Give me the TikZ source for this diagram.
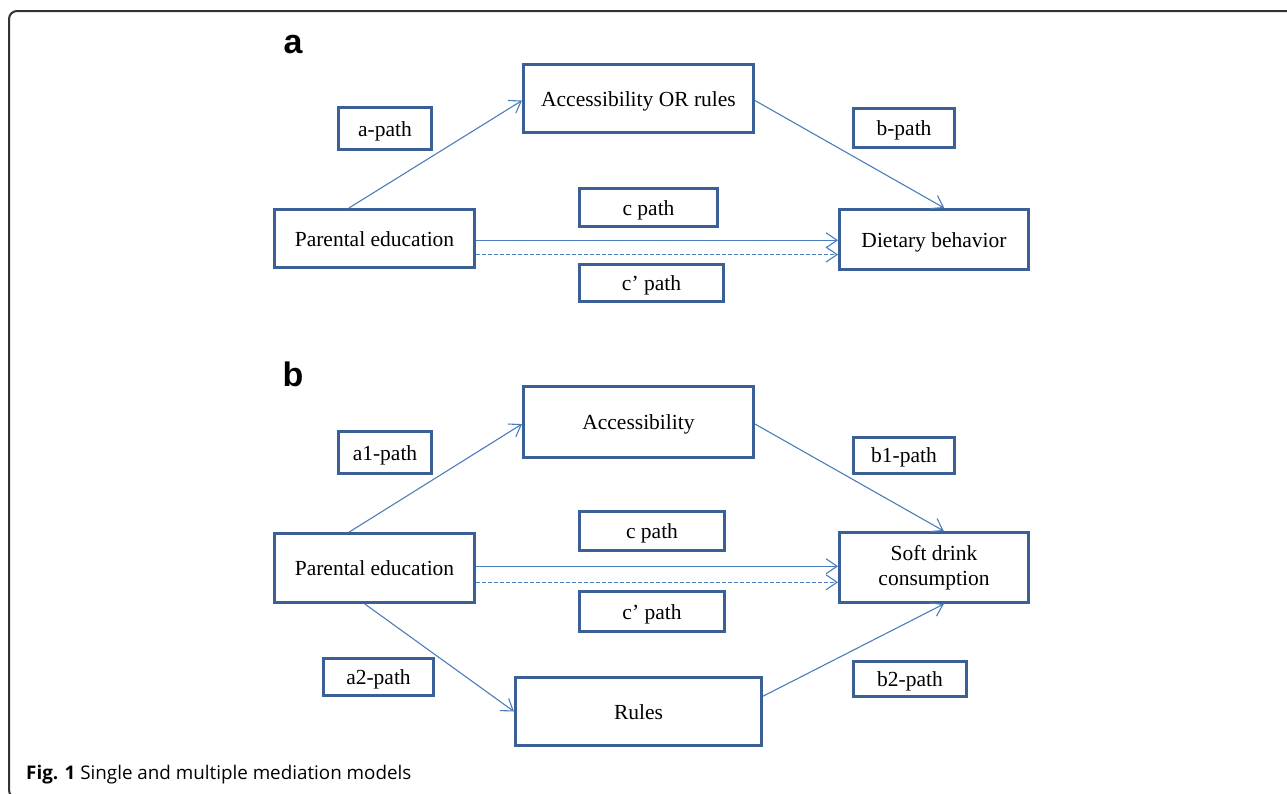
\documentclass[tikz,border=0pt]{standalone}
\usepackage{fontspec}
\setmainfont{Liberation Serif}
\newfontfamily\captionfont{Open Sans}
\newfontfamily\panelfont{Liberation Sans}
\usetikzlibrary{arrows.meta}

\newlength{\du}
\setlength{\du}{1pt}

\definecolor{boxcolor}{rgb}{0.231373, 0.376471, 0.584314}
\definecolor{linkcolor}{rgb}{0.290196, 0.494118, 0.733333}
\definecolor{framecolor}{rgb}{0.200000, 0.200000, 0.200000}

\tikzset{
  varbox/.style={draw=boxcolor, line width=3\du, fill=white, inner sep=0pt,
    align=center, text height=17.5\du, text depth=2.5\du,
    font=\fontsize{21.5\du}{25\du}\selectfont},
  link/.style={draw=linkcolor, line width=1.1\du,
    -{Straight Barb[length=11pt,width=15pt]}},
  linkdashed/.style={link, dash pattern=on 4\du off 2\du},
  panelletter/.style={font=\panelfont\bfseries\fontsize{34\du}{34\du}\selectfont},
}

\begin{document}
\begin{tikzpicture}
\pgftransformxscale{1.000000}
\pgftransformyscale{-1.000000}
\useasboundingbox (0\du,0\du) rectangle (1287.000000\du,793.000000\du);
% frame
\draw[framecolor, line width=2\du, rounded corners=8\du] (1295.000000\du,11.000000\du)--(9.000000\du,11.000000\du)--(9.000000\du,798.000000\du)--(30.000000\du,798.000000\du);
% panel a
\node[panelletter] (la) at (293.000000\du,45.000000\du){a};
\node[varbox, minimum width=230\du, minimum height=68\du] (aor) at (638.500000\du,98.500000\du){Accessibility OR rules};
\node[varbox, minimum width=93\du, minimum height=42\du] (apath) at (385.000000\du,128.500000\du){a-path};
\node[varbox, minimum width=101\du, minimum height=39\du] (bpath) at (904.000000\du,128.000000\du){b-path};
\node[varbox, minimum width=200\du, minimum height=58\du] (pea) at (374.500000\du,238.500000\du){Parental education};
\node[varbox, minimum width=138\du, minimum height=38\du] (cpatha) at (648.500000\du,207.500000\du){c path};
\node[varbox, minimum width=144\du, minimum height=37\du] (cppatha) at (651.500000\du,283.000000\du){c’ path};
\node[varbox, minimum width=189\du, minimum height=60\du] (diet) at (934.000000\du,239.500000\du){Dietary behavior};
\draw[link] (pea.130)--(aor.181);
\draw[link] (aor.-1)--(diet.72);
\draw[link] (pea.-1.4)--(pea.-1.4 -| diet.west);
\draw[linkdashed] (pea.-9.4)--(pea.-9.4 -| diet.west);
% panel b
\node[panelletter] (lb) at (293.000000\du,374.000000\du){b};
\node[varbox, minimum width=230\du, minimum height=71\du] (acc) at (638.500000\du,422.000000\du){Accessibility};
\node[varbox, minimum width=93\du, minimum height=42\du] (aonepath) at (385.000000\du,452.500000\du){a1-path};
\node[varbox, minimum width=101\du, minimum height=36\du] (bonepath) at (904.000000\du,455.000000\du){b1-path};
\node[varbox, minimum width=200\du, minimum height=69\du] (peb) at (374.500000\du,568.000000\du){Parental education};
\node[varbox, minimum width=145\du, minimum height=39\du] (cpathb) at (652.000000\du,531.000000\du){c path};
\node[varbox, minimum width=145\du, minimum height=40\du] (cppathb) at (652.000000\du,611.500000\du){c’ path};
\node[varbox, text height={}, text depth={}, minimum width=189\du, minimum height=70\du] (soft) at (934.000000\du,567.500000\du){Soft drink\\consumption};
\node[varbox, minimum width=110\du, minimum height=37\du] (atwopath) at (378.500000\du,677.000000\du){a2-path};
\node[varbox, minimum width=246\du, minimum height=68\du] (rules) at (638.500000\du,711.500000\du){Rules};
\node[varbox, minimum width=113\du, minimum height=35\du] (btwopath) at (910.000000\du,679.000000\du){b2-path};
\draw[link] (peb.125)--(acc.181.5);
\draw[link] (acc.-1.5)--(soft.75);
\draw[link] (peb.255)--(rules.west);
\draw[link] (rules.7)--(soft.285);
\draw[link] (peb.1.7)--(peb.1.7 -| soft.west);
\draw[linkdashed] (peb.-8)--(peb.-8 -| soft.west);
% setfont left to latex
\node[anchor=base west, inner sep=0pt, font=\captionfont\fontsize{18.8\du}{20\du}\selectfont] (caption) at (26.000000\du,779.000000\du){\textbf{Fig. 1} Single and multiple mediation models};
\end{tikzpicture}
\end{document}
